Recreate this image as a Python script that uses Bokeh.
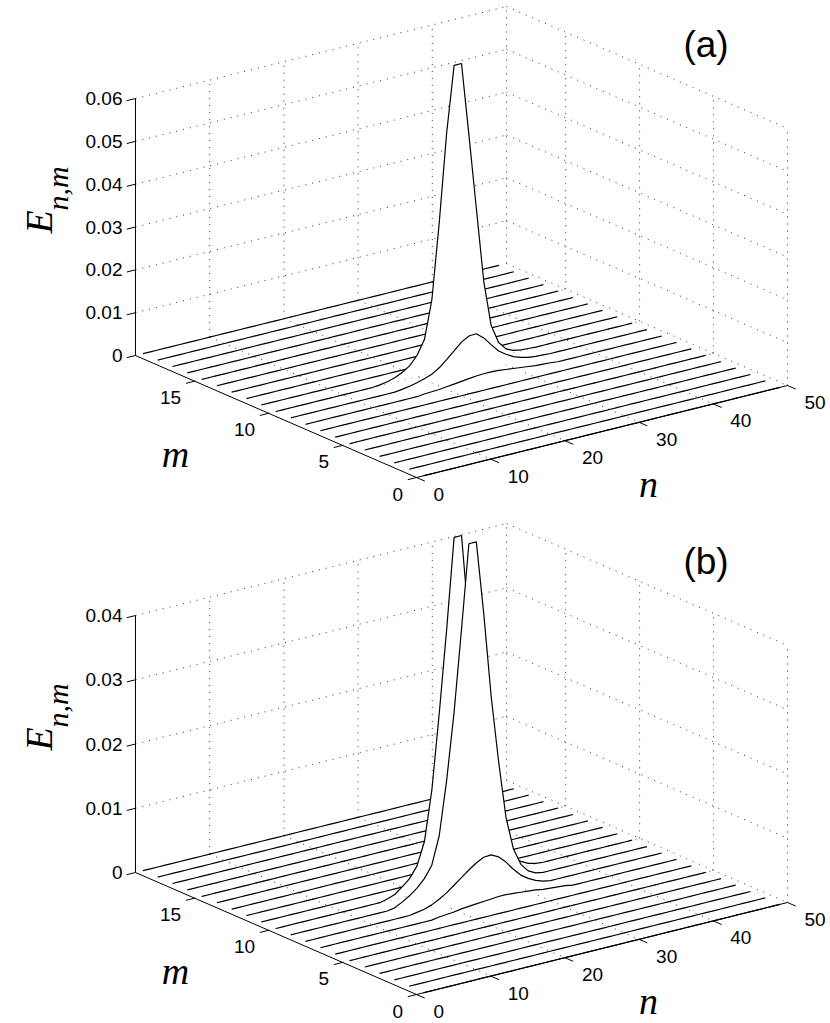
import numpy as np
from bokeh.plotting import figure
from bokeh.models import Range1d
from bokeh.embed import file_html
from bokeh.resources import INLINE
from bokeh.core.properties import value

# ---------------- data ----------------
n_sites = list(range(1, 50))          # n = 1..49
m_rows = list(range(0, 20))           # m = 0..19
n_ticks = [0, 10, 20, 30, 40, 50]
m_ticks = [0, 5, 10, 15]
n_lim = (0, 50)
m_lim = (0, 19)

z_ticks_a = [0, 0.01, 0.02, 0.03, 0.04, 0.05, 0.06]
z_labels_a = ["0", "0.01", "0.02", "0.03", "0.04", "0.05", "0.06"]
z_ticks_b = [0, 0.01, 0.02, 0.03, 0.04]
z_labels_b = ["0", "0.01", "0.02", "0.03", "0.04"]

# panel (a): non-zero rows (first n, values)
a_m10_first_n = 15
a_m10 = [0.0002, 0.0005, 0.0010, 0.0018, 0.0029, 0.0049, 0.0082, 0.0170, 0.0347,
         0.0552, 0.0705, 0.0705, 0.0533, 0.0358, 0.0183, 0.0076, 0.0032, 0.0013,
         0.0005, 0.0002, 0.0001]
a_m9_first_n = 16
a_m9 = [0.0002, 0.0005, 0.0009, 0.0014, 0.0020, 0.0031, 0.0046, 0.0062, 0.0078,
        0.0088, 0.0089, 0.0075, 0.0055, 0.0036, 0.0024, 0.0014, 0.0008, 0.0004,
        0.0002, 0.0001]
a_m8_first_n = 17
a_m8 = [0.0002, 0.0003, 0.0004, 0.0006, 0.0008, 0.0010, 0.0012, 0.0014, 0.0015,
        0.0015, 0.0014, 0.0012, 0.0010, 0.0008, 0.0006, 0.0004, 0.0003, 0.0002]

# panel (b)
b_m10_first_n = 16
b_m10 = [0.0003, 0.0007, 0.0016, 0.0026, 0.0043, 0.0078, 0.0155, 0.0272, 0.0400,
         0.0540, 0.0540, 0.0400, 0.0272, 0.0155, 0.0078, 0.0045, 0.0028, 0.0018,
         0.0010, 0.0004, 0.0001]
b_m9_first_n = 15
b_m9 = [0.0002, 0.0008, 0.0015, 0.0024, 0.0036, 0.0054, 0.0097, 0.0180, 0.0283,
        0.0409, 0.0540, 0.0540, 0.0426, 0.0294, 0.0190, 0.0100, 0.0048, 0.0021,
        0.0008, 0.0002]
b_m8_first_n = 16
b_m8 = [0.0002, 0.0004, 0.0008, 0.0014, 0.0021, 0.0030, 0.0039, 0.0048, 0.0056,
        0.0062, 0.0063, 0.0057, 0.0046, 0.0032, 0.0020, 0.0012, 0.0006, 0.0002]
b_m7_first_n = 17
b_m7 = [0.0002, 0.0003, 0.0004, 0.0006, 0.0007, 0.0008, 0.0009, 0.0010, 0.0011,
        0.0011, 0.0010, 0.0009, 0.0008, 0.0007, 0.0005, 0.0004, 0.0003, 0.0002]


def build_grid(rows):
    E = np.zeros((len(m_rows), len(n_sites)))
    for m, first_n, vals in rows:
        for k, v in enumerate(vals):
            E[m_rows.index(m), n_sites.index(first_n + k)] = v
    return E


E_a = build_grid([(10, a_m10_first_n, a_m10), (9, a_m9_first_n, a_m9), (8, a_m8_first_n, a_m8)])
E_b = build_grid([(10, b_m10_first_n, b_m10), (9, b_m9_first_n, b_m9),
                  (8, b_m8_first_n, b_m8), (7, b_m7_first_n, b_m7)])

# ---------------- projection (orthographic view, screen px) ----------------
UN = np.array([7.42, -1.84])     # screen step per unit n
UM = np.array([-14.79, -6.42])   # screen step per unit m
BOX_H = 257.0                    # box height in px
TICK_LEN = 9.0

W, H = 830, 1023
p = figure(width=W, height=H, x_range=Range1d(0, W), y_range=Range1d(H, 0),
           output_backend="svg", toolbar_location=None, min_border=0, title=None)
p.axis.visible = False
p.grid.visible = False
p.outline_line_color = None
p.background_fill_color = "white"

SANS = value("Liberation Sans")
SERIF = value("Liberation Serif")


def draw_panel(origin, E, zmax, z_ticks, z_labels, tag, dy):
    ox, oy = origin

    def P(n, m, z):
        n = np.asarray(n, dtype=float)
        m = np.asarray(m, dtype=float)
        z = np.asarray(z, dtype=float)
        x = ox + n * UN[0] + m * UM[0]
        y = oy + n * UN[1] + m * UM[1] - z / zmax * BOX_H
        return x, y

    n0, n1 = n_lim
    m0, m1 = m_lim
    # dotted grid on back walls and floor
    gx, gy = [], []
    for z in z_ticks[1:]:
        x, y = P([n0, n1], [m1, m1], [z, z]); gx.append(list(x)); gy.append(list(y))
        x, y = P([n1, n1], [m1, m0], [z, z]); gx.append(list(x)); gy.append(list(y))
    for n in n_ticks[1:]:
        x, y = P([n, n], [m1, m1], [0, zmax]); gx.append(list(x)); gy.append(list(y))
        x, y = P([n, n], [m1, m0], [0, 0]); gx.append(list(x)); gy.append(list(y))
    for m in m_ticks:
        x, y = P([n1, n1], [m, m], [0, zmax]); gx.append(list(x)); gy.append(list(y))
        x, y = P([n0, n1], [m, m], [0, 0]); gx.append(list(x)); gy.append(list(y))
    p.multi_line(gx, gy, line_color="#333333", line_width=1, line_dash="1 6")

    # waterfall lines, back to front, with white fill for hidden-line removal
    ns = np.array(n_sites, dtype=float)
    for i in range(len(m_rows) - 1, -1, -1):
        m = m_rows[i]
        xc, yc = P(ns, np.full_like(ns, m), E[i])
        xb, yb = P(ns[::-1], np.full_like(ns, m), np.zeros_like(ns))
        if E[i].max() > 0:
            p.patch(list(xc) + list(xb), list(yc) + list(yb), fill_color="white",
                    line_color=None)
        p.line(list(xc), list(yc), line_color="black", line_width=1.2)

    # axes
    x, y = P([n0, n0], [m1, m1], [0, zmax])
    p.line(list(x), list(y), line_color="black", line_width=1)
    x, y = P([n0, n0], [m1, m0], [0, 0])
    p.line(list(x), list(y), line_color="black", line_width=1)
    x, y = P([n0, n1], [m0, m0], [0, 0])
    p.line(list(x), list(y), line_color="black", line_width=1)

    dn = -UN / np.linalg.norm(UN) * TICK_LEN
    dm = -UM / np.linalg.norm(UM) * TICK_LEN
    tx, ty = [], []
    for z in z_ticks:
        x, y = P(n0, m1, z); tx.append([float(x), float(x) + dn[0]]); ty.append([float(y), float(y) + dn[1]])
    for m in m_ticks:
        x, y = P(n0, m, 0); tx.append([float(x), float(x) + dn[0]]); ty.append([float(y), float(y) + dn[1]])
    for n in n_ticks:
        x, y = P(n, m0, 0); tx.append([float(x), float(x) + dm[0]]); ty.append([float(y), float(y) + dm[1]])
    p.multi_line(tx, ty, line_color="black", line_width=1)

    # tick labels
    zx, zy = P(np.full(len(z_ticks), n0), np.full(len(z_ticks), m1), z_ticks)
    p.text(x=list(zx - 13), y=list(zy), text=z_labels, text_font=SANS, text_font_size="19px",
           text_align="right", text_baseline="middle", text_color="black")
    mx, my = P(np.full(len(m_ticks), n0), m_ticks, np.zeros(len(m_ticks)))
    p.text(x=list(mx - 13.5), y=list(my + 16.5), text=[str(v) for v in m_ticks], text_font=SANS,
           text_font_size="19px", text_align="right", text_baseline="middle", text_color="black")
    nx, ny = P(n_ticks, np.full(len(n_ticks), m0), np.zeros(len(n_ticks)))
    p.text(x=list(nx + 17), y=list(ny + 17), text=[str(v) for v in n_ticks], text_font=SANS,
           text_font_size="19px", text_align="left", text_baseline="middle", text_color="black")

    # axis labels
    p.text(x=[38], y=[233 + dy], text=["E"], angle=np.pi / 2, text_font=SERIF,
           text_font_style="italic", text_font_size="38px", text_align="left",
           text_baseline="alphabetic", text_color="black")
    p.text(x=[57], y=[210 + dy], text=["n,m"], angle=np.pi / 2, text_font=SERIF,
           text_font_style="italic", text_font_size="30px", text_align="left",
           text_baseline="alphabetic", text_color="black")
    p.text(x=[175], y=[453 + dy], text=["m"], text_font=SERIF, text_font_style="italic",
           text_font_size="38px", text_align="center", text_baseline="alphabetic",
           text_color="black")
    p.text(x=[648], y=[483 + dy], text=["n"], text_font=SERIF, text_font_style="italic",
           text_font_size="38px", text_align="center", text_baseline="alphabetic",
           text_color="black")
    p.text(x=[705.5], y=[44 + dy], text=[tag], text_font=SANS, text_font_size="37px",
           text_align="center", text_baseline="middle", text_color="black")


draw_panel((416.0, 477.0), E_a, 0.06, z_ticks_a, z_labels_a, "(a)", 0)
draw_panel((416.0, 994.0), E_b, 0.04, z_ticks_b, z_labels_b, "(b)", 517)

open("out.html", "w").write(file_html(p, INLINE))
